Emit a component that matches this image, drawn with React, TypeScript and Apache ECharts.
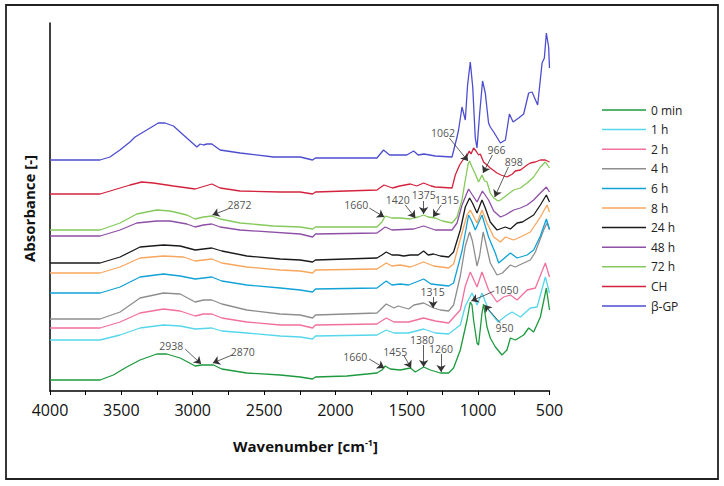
import React, { useEffect, useRef } from "react";
import * as echarts from "echarts";

const FONT = '"Open Sans", "DejaVu Sans", sans-serif';

const seriesNames = ["0 min", "1 h", "2 h", "4 h", "6 h", "8 h", "24 h", "48 h", "72 h", "CH", "β-GP"];
const seriesColors = ["#1d9a3e", "#55d6ec", "#f2709d", "#8e8e8e", "#12a2d6", "#f7a65e", "#1a1a1a", "#8e4fa6", "#84c95a", "#d3233d", "#4d4dcf"];

// [wavenumber cm-1, absorbance (offset, a.u.)]
const s0min: [number, number][] = [
  [4000, 0.11], [3649, 0.11], [3556, 0.16], [3462, 0.24], [3369, 0.31], [3252, 0.37], [3182, 0.37], [3088, 0.33],
  [2983, 0.25], [2936, 0.26], [2890, 0.26], [2855, 0.26], [2796, 0.22], [2621, 0.18], [2387, 0.16], [2247, 0.14],
  [2160, 0.12], [2140, 0.14], [1919, 0.15], [1709, 0.18], [1674, 0.21], [1651, 0.25], [1616, 0.22], [1546, 0.21],
  [1475, 0.23], [1440, 0.19], [1382, 0.24], [1335, 0.21], [1265, 0.18], [1207, 0.18], [1172, 0.23], [1125, 0.41],
  [1078, 0.71], [1055, 0.89], [1043, 0.86], [1032, 0.71], [1008, 0.48], [997, 0.46], [973, 0.78], [962, 0.87],
  [938, 0.64], [915, 0.53], [879, 0.44], [833, 0.36], [798, 0.41], [774, 0.53], [739, 0.51], [681, 0.56],
  [646, 0.63], [611, 0.59], [564, 0.74], [522, 1.03], [500, 0.81],
];
const s1h: [number, number][] = [
  [4000, 0.51], [3649, 0.51], [3509, 0.56], [3369, 0.63], [3205, 0.66], [3088, 0.65], [2983, 0.62], [2866, 0.63],
  [2796, 0.6], [2621, 0.58], [2387, 0.55], [2247, 0.54], [2160, 0.52], [2140, 0.55], [1709, 0.56], [1644, 0.61],
  [1590, 0.58], [1487, 0.58], [1382, 0.62], [1300, 0.58], [1207, 0.57], [1125, 0.66], [1090, 0.85], [1043, 0.98],
  [1008, 0.86], [973, 0.98], [927, 0.81], [860, 0.69], [798, 0.76], [762, 0.79], [704, 0.74], [634, 0.83],
  [587, 0.84], [529, 1.14], [500, 0.98],
];
const s2h: [number, number][] = [
  [4000, 0.63], [3649, 0.63], [3509, 0.69], [3369, 0.78], [3205, 0.82], [3088, 0.8], [2983, 0.75], [2925, 0.77],
  [2866, 0.77], [2796, 0.73], [2621, 0.69], [2387, 0.66], [2247, 0.66], [2160, 0.63], [2140, 0.66], [1709, 0.67],
  [1644, 0.73], [1590, 0.69], [1487, 0.69], [1382, 0.73], [1300, 0.7], [1207, 0.68], [1125, 0.81], [1090, 1.05],
  [1055, 1.19], [1008, 1.04], [973, 1.19], [950, 1.1], [927, 1.01], [868, 0.89], [821, 0.94], [774, 0.96],
  [727, 0.91], [657, 1.01], [599, 1.03], [529, 1.28], [500, 1.14],
];
const s4h: [number, number][] = [
  [4000, 0.72], [3649, 0.72], [3509, 0.79], [3369, 0.93], [3205, 0.98], [3088, 0.97], [2983, 0.89], [2925, 0.91],
  [2866, 0.91], [2796, 0.87], [2621, 0.81], [2387, 0.77], [2247, 0.76], [2160, 0.73], [2140, 0.76], [1709, 0.78],
  [1644, 0.87], [1590, 0.83], [1560, 0.85], [1487, 0.82], [1450, 0.86], [1382, 0.88], [1312, 0.83], [1265, 0.81],
  [1207, 0.8], [1172, 0.86], [1125, 1.15], [1090, 1.45], [1060, 1.59], [1040, 1.5], [1008, 1.25], [990, 1.35],
  [965, 1.59], [950, 1.5], [915, 1.28], [868, 1.16], [830, 1.18], [774, 1.26], [740, 1.24], [681, 1.28],
  [634, 1.31], [599, 1.39], [541, 1.61], [517, 1.68], [500, 1.61],
];
const s6h: [number, number][] = [
  [4000, 0.98], [3649, 0.98], [3509, 1.04], [3369, 1.14], [3205, 1.17], [3088, 1.15], [2983, 1.12], [2866, 1.14],
  [2796, 1.1], [2621, 1.06], [2387, 1.03], [2247, 1.01], [2160, 0.99], [2140, 1.02], [1709, 1.03], [1644, 1.1],
  [1604, 1.06], [1546, 1.07], [1487, 1.06], [1382, 1.12], [1330, 1.07], [1207, 1.05], [1172, 1.08], [1113, 1.4],
  [1067, 1.76], [1045, 1.7], [1020, 1.61], [973, 1.76], [927, 1.54], [880, 1.38], [856, 1.28], [774, 1.38],
  [727, 1.33], [657, 1.36], [611, 1.41], [564, 1.55], [522, 1.72], [500, 1.62],
];
const s8h: [number, number][] = [
  [4000, 1.18], [3649, 1.18], [3509, 1.24], [3369, 1.33], [3205, 1.35], [3065, 1.34], [2983, 1.3], [2866, 1.32],
  [2796, 1.28], [2621, 1.24], [2387, 1.21], [2247, 1.2], [2160, 1.18], [2140, 1.21], [1709, 1.22], [1644, 1.28],
  [1604, 1.25], [1546, 1.26], [1475, 1.24], [1382, 1.29], [1312, 1.25], [1207, 1.23], [1172, 1.27], [1113, 1.58],
  [1078, 1.76], [1055, 1.81], [1008, 1.68], [973, 1.81], [938, 1.68], [891, 1.54], [844, 1.49], [809, 1.54],
  [751, 1.51], [704, 1.54], [634, 1.59], [564, 1.74], [517, 1.86], [500, 1.79],
];
const s24h: [number, number][] = [
  [4000, 1.28], [3649, 1.28], [3509, 1.34], [3369, 1.44], [3205, 1.46], [3088, 1.45], [2983, 1.41], [2925, 1.42],
  [2866, 1.43], [2796, 1.4], [2621, 1.35], [2387, 1.32], [2247, 1.31], [2160, 1.29], [2140, 1.31], [1709, 1.33],
  [1674, 1.36], [1644, 1.39], [1604, 1.36], [1560, 1.36], [1522, 1.35], [1475, 1.36], [1420, 1.36], [1382, 1.4],
  [1350, 1.36], [1312, 1.37], [1265, 1.35], [1207, 1.34], [1172, 1.39], [1125, 1.61], [1090, 1.84], [1060, 1.93],
  [1040, 1.88], [1008, 1.78], [973, 1.91], [950, 1.83], [915, 1.69], [868, 1.61], [809, 1.64], [774, 1.62],
  [727, 1.68], [690, 1.69], [611, 1.76], [564, 1.86], [522, 1.96], [500, 1.89],
];
const s48h: [number, number][] = [
  [4000, 1.55], [3649, 1.55], [3509, 1.61], [3392, 1.68], [3252, 1.7], [3158, 1.7], [3041, 1.67], [2983, 1.64],
  [2925, 1.66], [2866, 1.67], [2808, 1.64], [2668, 1.61], [2247, 1.57], [2160, 1.54], [2140, 1.57], [1709, 1.58],
  [1651, 1.64], [1604, 1.61], [1452, 1.62], [1382, 1.65], [1300, 1.61], [1183, 1.61], [1148, 1.68], [1113, 1.86],
  [1067, 2.02], [1040, 1.96], [1008, 1.89], [970, 2.0], [927, 1.91], [891, 1.8], [844, 1.74], [810, 1.76],
  [751, 1.81], [704, 1.83], [657, 1.86], [611, 1.91], [564, 1.98], [522, 2.04], [500, 1.99],
];
const s72h: [number, number][] = [
  [4000, 1.61], [3649, 1.61], [3509, 1.68], [3392, 1.77], [3252, 1.81], [3158, 1.8], [3041, 1.76], [2983, 1.72],
  [2925, 1.74], [2866, 1.75], [2808, 1.72], [2668, 1.68], [2434, 1.65], [2247, 1.64], [2160, 1.62], [2140, 1.64],
  [1709, 1.64], [1674, 1.69], [1651, 1.75], [1604, 1.73], [1546, 1.73], [1475, 1.72], [1452, 1.73], [1420, 1.74],
  [1382, 1.76], [1350, 1.74], [1300, 1.73], [1250, 1.7], [1183, 1.68], [1148, 1.74], [1113, 1.91], [1090, 2.11],
  [1070, 2.27], [1060, 2.3], [1043, 2.24], [1020, 2.17], [997, 2.09], [973, 2.16], [955, 2.1], [938, 2.09],
  [915, 1.98], [891, 1.93], [860, 1.9], [844, 1.91], [798, 1.96], [751, 2.01], [704, 2.03], [657, 2.08],
  [611, 2.14], [564, 2.24], [529, 2.29], [500, 2.23],
];
const sCH: [number, number][] = [
  [4000, 1.97], [3649, 1.97], [3532, 2.02], [3439, 2.06], [3357, 2.09], [3276, 2.08], [3135, 2.05], [2983, 2.02],
  [2866, 2.07], [2808, 2.03], [2668, 2.0], [2387, 1.99], [2247, 1.99], [2160, 1.97], [2140, 1.99], [1709, 2.01],
  [1660, 2.06], [1600, 2.03], [1550, 2.05], [1475, 2.07], [1430, 2.05], [1382, 2.08], [1330, 2.05], [1300, 2.04],
  [1183, 2.03], [1160, 2.16], [1130, 2.26], [1102, 2.32], [1075, 2.36], [1062, 2.4], [1050, 2.37], [1032, 2.43],
  [1015, 2.4], [997, 2.36], [985, 2.37], [962, 2.29], [915, 2.23], [868, 2.18], [840, 2.16], [798, 2.14],
  [760, 2.17], [740, 2.2], [704, 2.21], [657, 2.26], [634, 2.28], [600, 2.29], [564, 2.31], [530, 2.31], [500, 2.29],
];
const sBGP: [number, number][] = [
  [4000, 2.31], [3650, 2.31], [3580, 2.34], [3510, 2.41], [3440, 2.49], [3404, 2.54], [3322, 2.61], [3241, 2.68],
  [3194, 2.68], [3135, 2.65], [3065, 2.56], [2971, 2.44], [2948, 2.47], [2925, 2.46], [2900, 2.47], [2866, 2.47],
  [2808, 2.41], [2668, 2.38], [2434, 2.34], [2247, 2.34], [2160, 2.31], [2140, 2.33], [1900, 2.33], [1709, 2.33],
  [1663, 2.41], [1620, 2.36], [1500, 2.36], [1452, 2.4], [1420, 2.36], [1380, 2.37], [1300, 2.35], [1183, 2.34],
  [1148, 2.54], [1137, 2.61], [1113, 2.84], [1090, 2.71], [1074, 3.06], [1055, 3.29], [1038, 3.04], [1020, 2.53],
  [1008, 2.43], [989, 2.78], [969, 3.1], [950, 2.98], [927, 2.68], [915, 2.64], [891, 2.59], [844, 2.48],
  [809, 2.51], [781, 2.77], [755, 2.69], [716, 2.73], [681, 2.77], [646, 2.98], [622, 2.99], [583, 2.86],
  [552, 3.28], [536, 3.33], [522, 3.58], [506, 3.44], [500, 3.23],
];
const seriesData = [s0min, s1h, s2h, s4h, s6h, s8h, s24h, s48h, s72h, sCH, sBGP];

// band annotations: label, label position, arrow start, arrow end  ([wavenumber, absorbance])
const annotLabels = ["2938", "2870", "2872", "1660", "1420", "1375", "1315", "1062", "966", "898", "1315", "1050", "950", "1660", "1455", "1380", "1260"];
const annotTextAt: [number, number][] = [
  [3151, 0.45], [2649, 0.39], [2673, 1.86], [1854, 1.86], [1564, 1.91], [1382, 1.96], [1218, 1.91], [1246, 2.58],
  [872, 2.41], [751, 2.29], [1319, 0.99], [802, 1.01], [816, 0.63], [1861, 0.34], [1581, 0.39], [1394, 0.51], [1260, 0.42],
];
const annotFrom: [number, number][] = [
  [3053, 0.42], [2724, 0.36], [2752, 1.82], [1763, 1.83], [1511, 1.86], [1382, 1.9], [1258, 1.86], [1202, 2.53],
  [900, 2.36], [788, 2.24], [1316, 0.94], [886, 1.0], [844, 0.68], [1763, 0.32], [1518, 0.35], [1382, 0.46], [1260, 0.37],
];
const annotTo: [number, number][] = [
  [2941, 0.27], [2859, 0.28], [2862, 1.76], [1658, 1.74], [1440, 1.73], [1382, 1.77], [1316, 1.74], [1071, 2.3],
  [966, 2.18], [884, 1.94], [1316, 0.83], [1048, 0.9], [956, 0.86], [1658, 0.23], [1470, 0.23], [1382, 0.24], [1260, 0.19],
];

const xTicks = [4000, 3500, 3000, 2500, 2000, 1500, 1000, 500];

export default function App() {
  const ref = useRef<HTMLDivElement>(null);
  useEffect(() => {
    if (!ref.current) return;
    const chart = echarts.init(ref.current, undefined, { renderer: "svg" });
    const lines = seriesNames.map((name, i) => ({
      name,
      type: "line",
      data: seriesData[i],
      symbol: "none",
      showSymbol: false,
      lineStyle: { width: 1.3, color: seriesColors[i] },
      itemStyle: { color: seriesColors[i] },
      z: 2,
    }));
    const annot = {
      name: "annotations",
      type: "scatter",
      data: annotLabels.map((t, i) => ({ name: t, value: annotTextAt[i] })),
      symbolSize: 1,
      itemStyle: { color: "rgba(0,0,0,0)" },
      label: {
        show: true,
        position: "inside",
        formatter: "{b}",
        fontSize: 10.5,
        fontFamily: FONT,
        color: "#222",
      },
      silent: true,
      z: 5,
      markLine: {
        silent: true,
        symbol: ["none", "arrow"],
        symbolSize: 7,
        label: { show: false },
        lineStyle: { color: "#333", width: 0.8, type: "solid" },
        data: annotLabels.map((_, i) => [{ coord: annotFrom[i] }, { coord: annotTo[i] }]),
      },
    };
    chart.setOption({
      animation: false,
      backgroundColor: "#ffffff",
      textStyle: { fontFamily: FONT },
      grid: { left: 50, right: 174.5, top: 23, bottom: 95 },
      xAxis: {
        type: "value",
        min: 500,
        max: 4000,
        interval: 250,
        inverse: true,
        axisLine: { show: true, lineStyle: { color: "#000", width: 1.5 } },
        axisTick: { show: true, length: 4, lineStyle: { color: "#000", width: 1 } },
        splitLine: { show: false },
        axisLabel: {
          margin: 11,
          fontSize: 16,
          fontFamily: FONT,
          color: "#111",
          formatter: (v: number) => (xTicks.indexOf(v) >= 0 ? String(v) : ""),
        },
      },
      yAxis: {
        type: "value",
        min: 0,
        max: 3.68,
        axisLine: { show: true, lineStyle: { color: "#000", width: 1.5 } },
        axisTick: { show: false },
        axisLabel: { show: false },
        splitLine: { show: false },
      },
      legend: {
        data: seriesNames,
        orient: "vertical",
        left: 597,
        top: 99,
        icon: "path://M0,0H44V1.5H0Z",
        itemWidth: 44,
        itemHeight: 14,
        itemGap: 7.6,
        textStyle: { fontSize: 12, fontFamily: FONT, color: "#222" },
      },
      graphic: [
        {
          type: "rect",
          shape: { x: 6, y: 5, width: 712, height: 474 },
          style: { fill: "none", stroke: "#222", lineWidth: 1.8 },
          silent: true,
        },
        {
          type: "text",
          x: 305.5,
          y: 445.5,
          style: {
            text: "Wavenumber [cm{s|-1}]",
            font: 'bold 15px "Open Sans", sans-serif',
            fill: "#111",
            align: "center",
            verticalAlign: "middle",
            textAlign: "center",
            textVerticalAlign: "middle",
            rich: { s: { fontSize: 9, fontWeight: "bold", fontFamily: FONT, verticalAlign: "top", fill: "#111" } },
          },
        },
        {
          type: "text",
          x: 28.7,
          y: 208.5,
          rotation: Math.PI / 2,
          style: {
            text: "Absorbance [-]",
            font: 'bold 15px "Open Sans", sans-serif',
            fill: "#111",
            align: "center",
            verticalAlign: "middle",
            textAlign: "center",
            textVerticalAlign: "middle",
          },
        },
      ],
      series: [...lines, annot],
    });
    return () => chart.dispose();
  }, []);
  return <div ref={ref} style={{ position: "absolute", left: 0, top: 0, width: 724, height: 486, background: "#fff" }} />;
}
